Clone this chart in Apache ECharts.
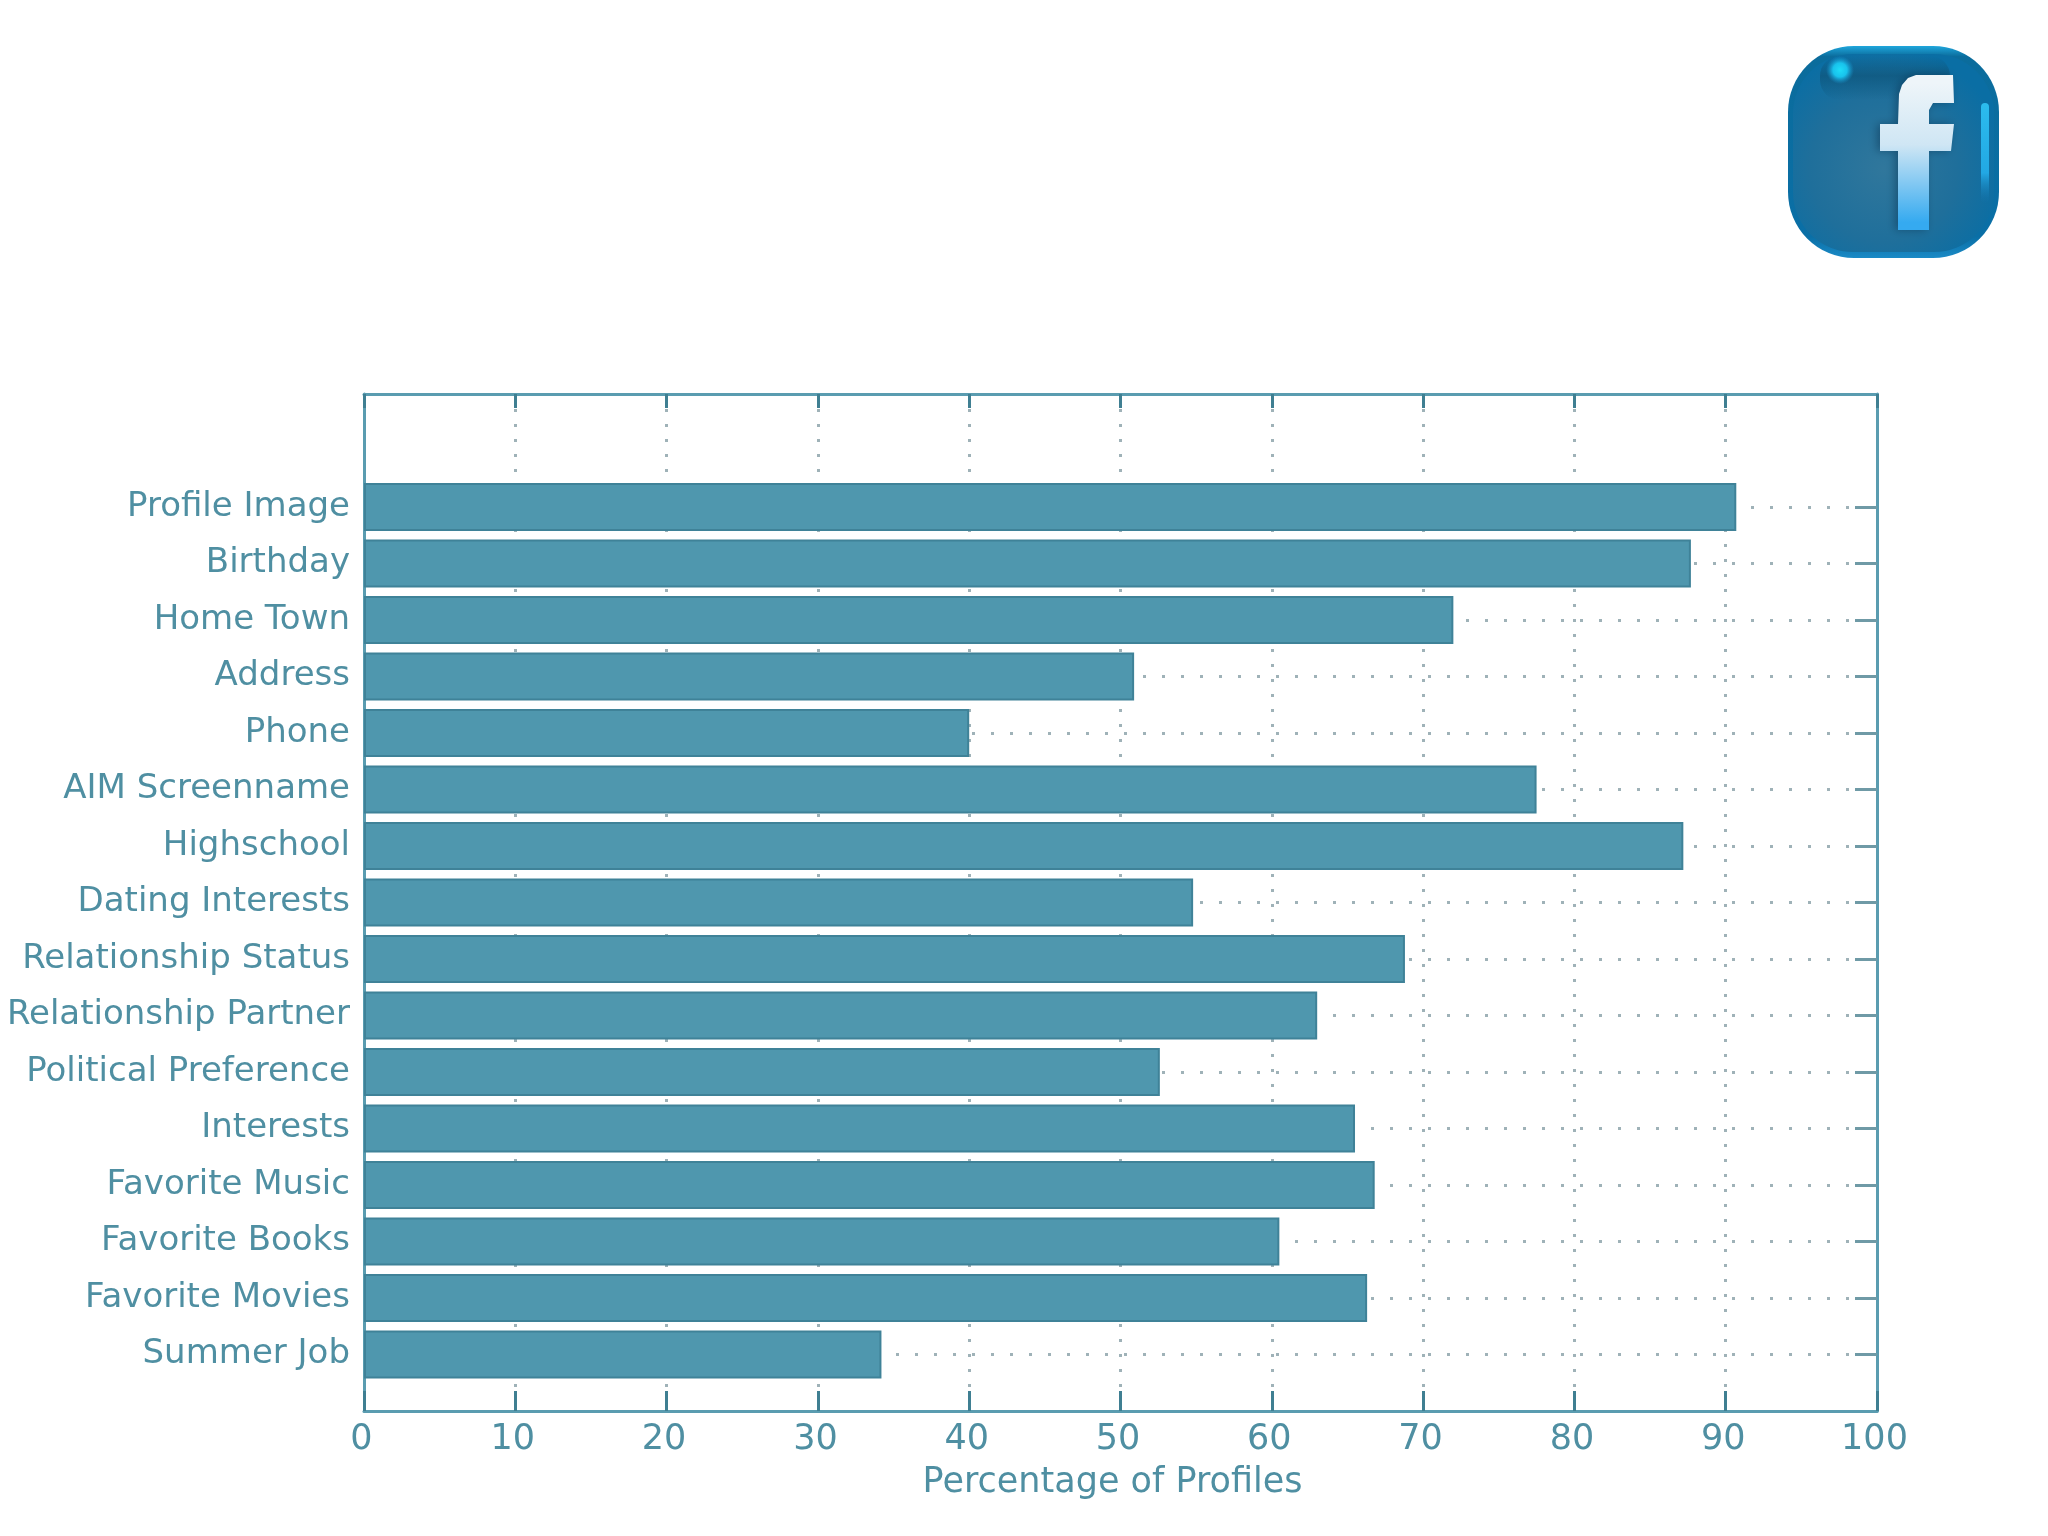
<!DOCTYPE html>
<html>
<head>
<meta charset="utf-8">
<title>Percentage of Profiles</title>
<script src="https://cdn.jsdelivr.net/npm/echarts@6/dist/echarts.min.js"></script>
<style>
  html, body { margin: 0; padding: 0; background: #fff; }
  #main { width: 2048px; height: 1536px; }
</style>
</head>
<body>
<div id="main"></div>
<script>
var categories = ["Profile Image", "Birthday", "Home Town", "Address", "Phone", "AIM Screenname",
    "Highschool", "Dating Interests", "Relationship Status", "Relationship Partner",
    "Political Preference", "Interests", "Favorite Music", "Favorite Books", "Favorite Movies", "Summer Job"];
var percentages = [90.7, 87.7, 72.0, 50.9, 40.0, 77.5, 87.2, 54.8, 68.8, 63.0, 52.6, 65.5, 66.8, 60.5, 66.3, 34.2];
var axisTitle = "Percentage of Profiles";

var TEAL = "#5a9cb0";
var TEXT = "#4f8fa2";
var FONT = "DejaVu Sans";

// empty slots keep the gap above the first bar and below the last one
var slots = ["", ""].concat(categories, [""]);
var slotValues = [null, null].concat(percentages, [null]);

function isRealSlot(i, name) {
    return name !== "";
}

// outline of the white f in the logo
var logoF = [[1953, 75], [1916, 75], [1908, 78], [1902, 85], [1899, 94], [1898, 124], [1880, 124], [1880, 151],
    [1898, 151], [1898, 230], [1929, 230], [1929, 151], [1951, 151], [1954, 124], [1929, 124], [1929, 110],
    [1933, 103], [1954, 103]];

var chart = echarts.init(document.getElementById("main"));

chart.setOption({
    backgroundColor: "#ffffff",
    animation: false,
    grid: { left: 364, top: 394, width: 1513, height: 1017 },
    xAxis: [
        {
            type: "value", min: 0, max: 100, interval: 10, position: "bottom",
            name: axisTitle, nameLocation: "middle", nameGap: 54,
            nameTextStyle: { color: TEXT, fontFamily: FONT, fontSize: 35, padding: [0, 16, 0, 0] },
            axisLine: { show: true, lineStyle: { color: TEAL, width: 3 } },
            axisTick: { show: true, inside: true, length: 20, lineStyle: { color: "#3f7f92", width: 3 } },
            axisLabel: { color: TEXT, fontFamily: FONT, fontSize: 35, margin: 11, padding: [0, 5, 0, 0] },
            splitLine: { show: true, showMinLine: false, showMaxLine: false, lineStyle: { color: "#9fb2b8", width: 3, type: [3, 12] } }
        },
        {
            type: "value", min: 0, max: 100, interval: 10, position: "top",
            axisLine: { show: true, lineStyle: { color: TEAL, width: 3 } },
            axisTick: { show: true, inside: true, length: 14, lineStyle: { color: "#3f7f92", width: 3 } },
            axisLabel: { show: false },
            splitLine: { show: false }
        }
    ],
    yAxis: [
        {
            type: "category", data: slots, inverse: true, boundaryGap: false, position: "left",
            axisLine: { show: true, onZero: false, lineStyle: { color: TEAL, width: 3 } },
            axisTick: { show: false },
            axisLabel: { interval: 0, color: TEXT, fontFamily: FONT, fontSize: 34, margin: 14, padding: [3, 0, 0, 0] },
            splitLine: { show: true, interval: isRealSlot, lineStyle: { color: "#9fb2b8", width: 3, type: [3, 16] } }
        },
        {
            type: "category", data: slots, inverse: true, boundaryGap: false, position: "right",
            axisLine: { show: true, onZero: false, lineStyle: { color: TEAL, width: 3 } },
            axisTick: { show: true, inside: true, interval: isRealSlot, length: 22, lineStyle: { color: "#6f9aa6", width: 3 } },
            axisLabel: { show: false },
            splitLine: { show: false }
        }
    ],
    series: [{
        type: "bar",
        data: slotValues,
        barWidth: 48,
        itemStyle: { color: "#4f97ae", borderColor: "#3f8298", borderWidth: 2 }
    }],
    // facebook button in the top right corner
    graphic: [
        {
            type: "rect",
            shape: { x: 1788, y: 46, width: 211, height: 212, r: 66 },
            style: {
                fill: new echarts.graphic.LinearGradient(0, 0, 0, 1, [
                    { offset: 0, color: "#1fa6dc" },
                    { offset: 0.05, color: "#0b6c9c" },
                    { offset: 0.9, color: "#0a6fa6" },
                    { offset: 1, color: "#1b8ac6" }
                ])
            }
        },
        {
            type: "rect",
            shape: { x: 1793, y: 54, width: 201, height: 198, r: 60 },
            style: {
                fill: new echarts.graphic.RadialGradient(0.45, 0.58, 0.62, [
                    { offset: 0, color: "#30779c" },
                    { offset: 0.6, color: "#1f6f9b" },
                    { offset: 1, color: "#0a6ea4" }
                ])
            }
        },
        // dark band under the top rim
        {
            type: "rect",
            shape: { x: 1820, y: 56, width: 130, height: 44, r: 20 },
            style: {
                fill: new echarts.graphic.LinearGradient(0, 0, 0, 1, [
                    { offset: 0, color: "rgba(14,80,115,0)" },
                    { offset: 0.45, color: "rgba(14,80,115,0.6)" },
                    { offset: 1, color: "rgba(14,80,115,0)" }
                ])
            }
        },
        // glossy highlights
        {
            type: "circle", shape: { cx: 1840, cy: 70, r: 14 },
            style: {
                fill: new echarts.graphic.RadialGradient(0.5, 0.5, 0.5, [
                    { offset: 0, color: "#1fdcf8" },
                    { offset: 0.5, color: "#18c2ec" },
                    { offset: 1, color: "rgba(24,150,210,0)" }
                ])
            }
        },
        {
            type: "rect", shape: { x: 1981, y: 103, width: 8, height: 100, r: 4 },
            style: {
                fill: new echarts.graphic.LinearGradient(0, 0, 0, 1, [
                    { offset: 0, color: "#2cbcee" },
                    { offset: 0.7, color: "#22a8e4" },
                    { offset: 1, color: "rgba(20,120,180,0)" }
                ])
            }
        },
        // soft shadow on the left of the f, then the f itself
        {
            type: "polygon",
            shape: { points: logoF },
            style: {
                fill: new echarts.graphic.LinearGradient(0, 0, 0, 1, [
                    { offset: 0.05, color: "#eef5f9" },
                    { offset: 0.45, color: "#cfe6f4" },
                    { offset: 0.95, color: "#35aaf0" }
                ]),
                shadowColor: "rgba(10,50,80,0.5)", shadowBlur: 8, shadowOffsetX: -3
            }
        }
    ]
});
</script>
</body>
</html>
